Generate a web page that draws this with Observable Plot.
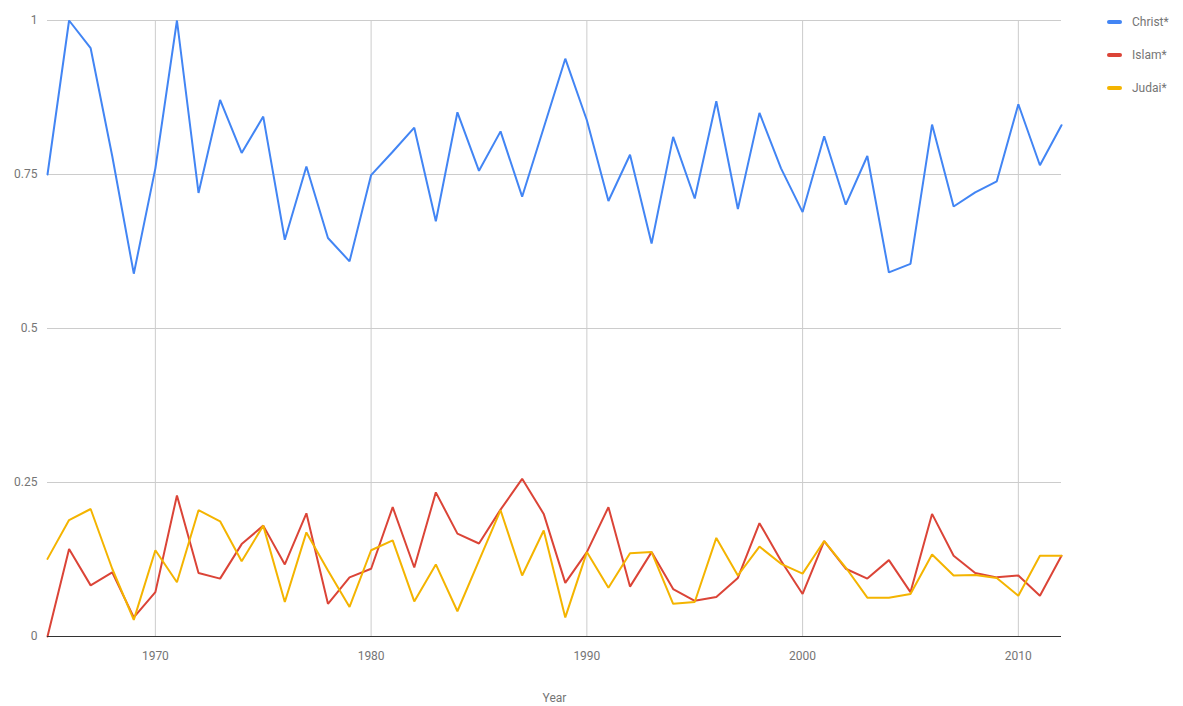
<!DOCTYPE html>
<html>
<head>
<meta charset="utf-8">
<script src="https://cdn.jsdelivr.net/npm/d3@7"></script>
<script src="https://cdn.jsdelivr.net/npm/@observablehq/plot@0.6"></script>
<style>
  html, body { margin: 0; padding: 0; background: #fff; }
  #wrap { position: relative; width: 1183px; height: 706px; font-family: Roboto, "Noto Sans", sans-serif; }
  #legend { position: absolute; left: 1107px; top: 0; font-size: 12px; color: #757575; }
  .item { position: absolute; left: 0; display: flex; align-items: center; height: 16px; white-space: nowrap; }
  .sw { width: 15px; height: 4px; border-radius: 2px; margin-right: 10px; }
</style>
</head>
<body>
<div id="wrap"><div id="chart"></div><div id="legend"></div></div>
<script>
const years = [1965,1966,1967,1968,1969,1970,1971,1972,1973,1974,1975,1976,1977,1978,1979,1980,
  1981,1982,1983,1984,1985,1986,1987,1988,1989,1990,1991,1992,1993,1994,1995,
  1996,1997,1998,1999,2000,2001,2002,2003,2004,2005,2006,2007,2008,2009,2010,2011,2012];
const christ = [0.75,1.0,0.955,0.78,0.589,0.76,1.0,0.72,0.871,0.785,0.844,0.644,0.763,0.647,0.609,0.749,
  0.787,0.826,0.674,0.851,0.756,0.82,0.714,0.826,0.938,0.838,0.707,0.782,0.638,0.811,0.711,
  0.869,0.694,0.85,0.76,0.689,0.812,0.701,0.78,0.591,0.605,0.831,0.698,0.721,0.739,0.864,0.765,0.83];
const islam = [0,0.142,0.083,0.104,0.031,0.072,0.229,0.103,0.094,0.15,0.18,0.117,0.2,0.053,0.096,0.11,
  0.21,0.112,0.234,0.167,0.151,0.206,0.256,0.199,0.087,0.137,0.21,0.081,0.137,0.077,0.058,
  0.064,0.095,0.184,0.123,0.069,0.155,0.11,0.094,0.124,0.072,0.199,0.131,0.103,0.096,0.099,0.066,0.131];
const judai = [0.126,0.189,0.207,0.11,0.027,0.14,0.088,0.205,0.187,0.122,0.18,0.056,0.169,0.107,0.048,0.14,
  0.156,0.057,0.117,0.041,0.123,0.205,0.099,0.172,0.031,0.137,0.079,0.135,0.137,0.053,0.056,
  0.16,0.099,0.146,0.118,0.102,0.155,0.112,0.063,0.063,0.069,0.133,0.099,0.1,0.095,0.066,0.131,0.131];
const seriesNames = ["Christ*", "Islam*", "Judai*"];
const seriesColors = ["#4285F4", "#DB4437", "#F4B400"];
const yTicks = [0, 0.25, 0.5, 0.75, 1];
const xTicks = [1970, 1980, 1990, 2000, 2010];

const seriesValues = [christ, islam, judai];
const rows = [];
seriesNames.forEach((name, i) => {
  years.forEach((yr, j) => rows.push({series: name, year: yr, value: seriesValues[i][j]}));
});

const chart = Plot.plot({
  width: 1183,
  height: 706,
  marginLeft: 47,
  marginRight: 122,
  marginTop: 20,
  marginBottom: 70,
  style: {fontFamily: "Roboto, 'Noto Sans', sans-serif", fontSize: "12px", color: "#757575", background: "#fff"},
  x: {domain: [1965, 2012], ticks: xTicks, tickFormat: d => String(d), label: null},
  y: {domain: [0, 1], ticks: yTicks, tickFormat: d => String(d), label: null},
  color: {domain: seriesNames, range: seriesColors},
  marks: [
    Plot.gridX(xTicks, {stroke: "#cccccc", strokeOpacity: 1, strokeWidth: 1}),
    Plot.gridY(yTicks, {stroke: "#cccccc", strokeOpacity: 1, strokeWidth: 1}),
    Plot.axisY({ticks: yTicks, tickSize: 0, tickPadding: 10, tickFormat: d => String(d), fill: "#757575", fontSize: 12}),
    Plot.axisX({ticks: xTicks, tickSize: 0, tickPadding: 15, tickFormat: d => String(d), fill: "#757575", fontSize: 12,
      label: "Year", labelAnchor: "center", labelArrow: "none", labelOffset: 65}),
    Plot.line(rows, {x: "year", y: "value", z: "series", stroke: "series", strokeWidth: 2, strokeLinejoin: "miter"}),
    Plot.ruleY([0], {stroke: "#333333", strokeWidth: 1})
  ]
});
document.getElementById("chart").appendChild(chart);

const legend = document.getElementById("legend");
const legendCenters = [22, 55, 88];
seriesNames.forEach((name, i) => {
  const it = document.createElement("div");
  it.className = "item";
  it.style.top = (legendCenters[i] - 8) + "px";
  it.innerHTML = `<div class="sw" style="background:${seriesColors[i]}"></div><span>${name}</span>`;
  legend.appendChild(it);
});
</script>
</body>
</html>
